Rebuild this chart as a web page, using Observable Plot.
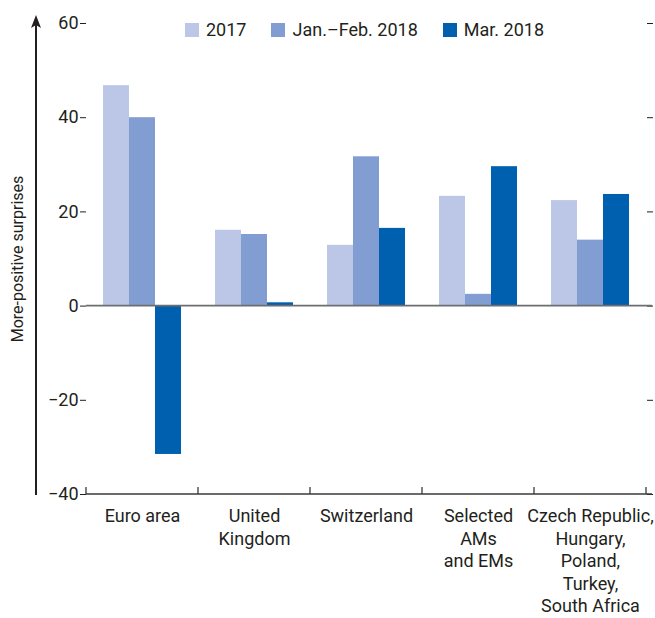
<!DOCTYPE html>
<html>
<head>
<meta charset="utf-8">
<script src="https://cdn.jsdelivr.net/npm/d3@7"></script>
<script src="https://cdn.jsdelivr.net/npm/@observablehq/plot@0.6"></script>
<style>
  html, body { margin: 0; padding: 0; background: #fff; }
  #wrap { position: relative; width: 655px; height: 618px; font-family: Roboto, "Liberation Sans", sans-serif; color: #231f20; }
  #legend { position: absolute; left: 185px; top: 19px; display: flex; font-size: 18px; line-height: 22px; }
  #legend .item { display: flex; align-items: center; margin-right: 25px; }
  #legend .sw { width: 14px; height: 14px; margin-right: 7px; }
</style>
</head>
<body>
<div id="wrap"><div id="legend"></div></div>
<script>
const categories = ["Euro area", "United Kingdom", "Switzerland", "Selected AMs and EMs", "Czech Republic, Hungary, Poland, Turkey, South Africa"];
const categoryLabels = ["Euro area", "United\nKingdom", "Switzerland", "Selected\nAMs\nand EMs", "Czech Republic,\nHungary,\nPoland,\nTurkey,\nSouth Africa"];
const series = ["2017", "Jan.–Feb. 2018", "Mar. 2018"];
const values2017 = [46.8, 16.1, 12.9, 23.3, 22.4];
const valuesJanFeb2018 = [40.0, 15.2, 31.7, 2.5, 14.0];
const valuesMar2018 = [-31.5, 0.7, 16.5, 29.6, 23.7];
const yTicks = [-40, -20, 0, 20, 40, 60];
const colors = ["#bcc6e6", "#829dd2", "#0060b0"];
const yLabel = "More-positive surprises";

const seriesValues = [values2017, valuesJanFeb2018, valuesMar2018];
const data = [];
categories.forEach((c, i) => {
  series.forEach((s, j) => data.push({category: c, series: s, value: seriesValues[j][i]}));
});
const labelOf = new Map(categories.map((c, i) => [c, categoryLabels[i]]));

const chart = Plot.plot({
  width: 655,
  height: 618,
  marginTop: 23,
  marginBottom: 124,
  marginLeft: 84,
  marginRight: 8,
  style: {fontFamily: "Roboto, 'Liberation Sans', sans-serif", fontSize: "18px", color: "#231f20", background: "transparent", overflow: "visible"},
  fx: {domain: categories, padding: 0, label: null},
  x: {domain: series, paddingInner: 0, paddingOuter: 0.585, axis: null},
  y: {domain: [-40, 60]},
  color: {domain: series, range: colors},
  marks: [
    Plot.barY(data, {fx: "category", x: "series", y: "value", fill: "series"}),
    Plot.axisY({ticks: yTicks, tickSize: 6, tickPadding: 2, label: null, fontSize: 18, stroke: "#231f20"}),
    Plot.axisY({ticks: yTicks, tickSize: 0, tickFormat: () => "", label: yLabel, labelAnchor: "center", labelOffset: 75, labelArrow: "none", fontSize: 16}),
    Plot.axisY({anchor: "right", ticks: yTicks, tickSize: 6, tickFormat: () => "", label: null, stroke: "#231f20"}),
    Plot.axisFx({anchor: "bottom", tickSize: 0, tickPadding: 12, label: null, fontSize: 18, lineHeight: 1.25, tickFormat: d => labelOf.get(d)})
  ]
});

document.getElementById("wrap").prepend(chart);

// decorations computed from the library's scales
const svg = d3.select(chart);
const fx = chart.scale("fx");
const y = chart.scale("y");
const left = fx.apply(categories[0]);
const right = fx.apply(categories[categories.length - 1]) + fx.bandwidth;
const y0 = y.apply(0);
const yb = y.apply(-40);
const yt = y.apply(60);
const g = svg.append("g");
g.append("line").attr("x1", left).attr("x2", right + 6).attr("y1", y0).attr("y2", y0)
  .attr("stroke", "#6d6e71").attr("stroke-width", 1.6);
g.append("line").attr("x1", left).attr("x2", right + 6).attr("y1", yb).attr("y2", yb)
  .attr("stroke", "#3a3a3a").attr("stroke-width", 1.3);
const edges = categories.map(c => fx.apply(c)).concat([right]);
edges.forEach(xe => {
  g.append("line").attr("x1", xe).attr("x2", xe).attr("y1", yb).attr("y2", yb - 7)
    .attr("stroke", "#3a3a3a").attr("stroke-width", 1.3);
});
// arrow axis at the left
const ax = 36;
g.append("line").attr("x1", ax).attr("x2", ax).attr("y1", yb + 1).attr("y2", yt - 2)
  .attr("stroke", "#231f20").attr("stroke-width", 2);
g.append("path").attr("d", `M${ax},${yt - 8}L${ax - 5},${yt + 5}L${ax},${yt + 2}L${ax + 5},${yt + 5}Z`)
  .attr("fill", "#231f20");

// legend
const legend = d3.select("#legend");
series.forEach((s, i) => {
  const item = legend.append("div").attr("class", "item");
  item.append("div").attr("class", "sw").style("background", colors[i]);
  item.append("span").text(s);
});
</script>
</body>
</html>
